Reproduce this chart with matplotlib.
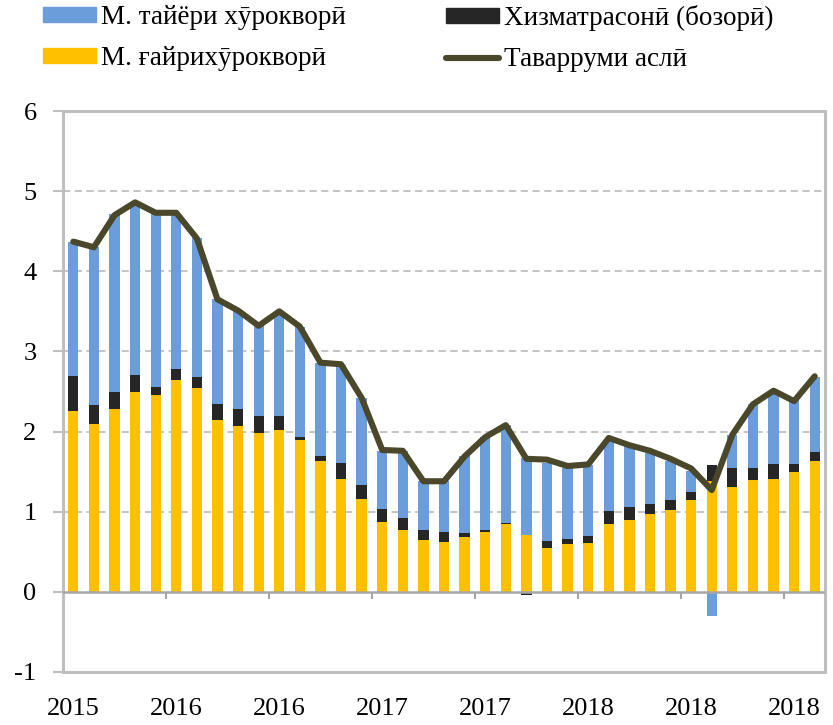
import numpy as np
import matplotlib
matplotlib.use("Agg")
import matplotlib.pyplot as plt
from matplotlib.patches import Patch
from matplotlib.lines import Line2D

plt.rcParams['font.family'] = ['Liberation Serif', 'DejaVu Serif']

# ---- data ----
nonfood = [2.26, 2.09, 2.28, 2.49, 2.46, 2.64, 2.54, 2.15, 2.07, 1.98, 2.02, 1.90, 1.63,
           1.41, 1.16, 0.87, 0.77, 0.65, 0.62, 0.68, 0.75, 0.85, 0.71, 0.55, 0.60, 0.61,
           0.85, 0.90, 0.97, 1.02, 1.14, 1.38, 1.31, 1.39, 1.41, 1.49, 1.63]
services = [0.43, 0.24, 0.22, 0.22, 0.09, 0.14, 0.14, 0.19, 0.21, 0.21, 0.18, 0.03, 0.07,
            0.20, 0.17, 0.16, 0.155, 0.12, 0.13, 0.05, 0.02, 0.01, -0.04, 0.09, 0.06, 0.09,
            0.16, 0.16, 0.13, 0.12, 0.10, 0.20, 0.24, 0.16, 0.19, 0.11, 0.12]
food = [1.68, 1.97, 2.21, 2.13, 2.16, 1.93, 1.73, 1.31, 1.22, 1.13, 1.27, 1.38, 1.15,
        1.22, 1.09, 0.73, 0.835, 0.61, 0.63, 0.96, 1.16, 1.22, 0.96, 0.97, 0.89, 0.88,
        0.88, 0.76, 0.63, 0.49, 0.27, -0.30, 0.41, 0.80, 0.90, 0.79, 0.93]
headline = [4.37, 4.30, 4.70, 4.86, 4.73, 4.73, 4.41, 3.65, 3.51, 3.32, 3.50, 3.31, 2.86,
            2.84, 2.42, 1.77, 1.76, 1.38, 1.38, 1.69, 1.93, 2.08, 1.66, 1.65, 1.57, 1.59,
            1.92, 1.83, 1.76, 1.66, 1.54, 1.27, 1.96, 2.34, 2.51, 2.38, 2.69]
tick_labels = ['2015', '2016', '2016', '2017', '2017', '2018', '2018', '2018']
label_step = 5

names = ['М. тайёри хӯрокворӣ', 'Хизматрасонӣ (бозорӣ)', 'М. ғайрихӯрокворӣ', 'Таварруми аслӣ']
c_food, c_serv, c_nonfood, c_line = '#6A9DDA', '#262626', '#FFC000', '#4A472B'
grid_c = '#BFBFBF'

fig = plt.figure(figsize=(8.33, 7.25), dpi=100)
ax = fig.add_axes([63/833, 1-672/725, (825-63)/833, (672-111)/725])

n = len(nonfood)
x = np.arange(n)
pos = np.zeros(n)
neg = np.zeros(n)
for vals, col in [(nonfood, c_nonfood), (services, c_serv), (food, c_food)]:
    v = np.array(vals)
    bottom = np.where(v >= 0, pos, neg)
    ax.bar(x, v, bottom=bottom, width=0.5, color=col, zorder=2)
    pos += np.clip(v, 0, None)
    neg += np.clip(v, None, 0)

ax.plot(x, headline, color=c_line, lw=4.4, zorder=4, solid_joinstyle='round',
        solid_capstyle='round')

ax.set_xlim(-0.5, n - 0.5)
ax.set_ylim(-1, 6)
ax.set_yticks(range(-1, 7))
ax.set_yticklabels([str(v) for v in range(-1, 7)])
for yv in range(1, 6):
    ax.axhline(yv, color=grid_c, lw=1.3, ls=(0, (4, 2.5)), zorder=1)
ax.axhline(0, color='#A6A6A6', lw=1.8, zorder=3)

for s in ax.spines.values():
    s.set_color(grid_c)
    s.set_linewidth(2.2)

ax.tick_params(axis='y', length=7, width=1.5, color=grid_c, pad=12, labelsize=19)
ax.set_xticks(x[::label_step])
ax.set_xticklabels(tick_labels)
ax.tick_params(axis='x', length=0, pad=19, labelsize=19)

sec = ax.secondary_xaxis(1/7)
sec.set_xticks(np.arange(label_step - 0.5, n - 1, label_step))
sec.set_xticklabels([])
sec.tick_params(axis='x', direction='out', length=5, width=1.5, color='#A6A6A6')
sec.spines['bottom'].set_visible(False)

leg_kw = dict(frameon=False, fontsize=19.5, handlelength=1.95, handleheight=0.45,
              handletextpad=0.2, labelspacing=0.6, borderaxespad=0, borderpad=0)
fig.legend([Patch(color=c_food), Patch(color=c_nonfood)], [names[0], names[2]],
           loc='upper left', bbox_to_anchor=(43/833, 1 - 5/725), **leg_kw)
fig.legend([Patch(color=c_serv), Line2D([], [], color=c_line, lw=4.4, solid_capstyle='round')],
           [names[1], names[3]], loc='upper left', bbox_to_anchor=(446/833, 1 - 5/725), **leg_kw)

fig.savefig('out.png', dpi=100)
